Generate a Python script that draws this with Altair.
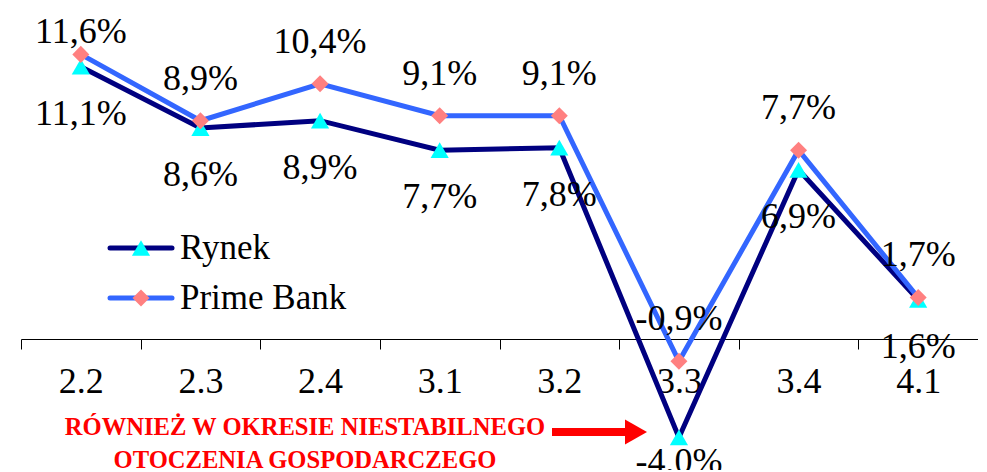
import altair as alt
import pandas as pd

quarters = ["2.2", "2.3", "2.4", "3.1", "3.2", "3.3", "3.4", "4.1"]
series = ["Rynek", "Prime Bank"]
rynek = [11.1, 8.6, 8.9, 7.7, 7.8, -4.0, 6.9, 1.6]
prime = [11.6, 8.9, 10.4, 9.1, 9.1, -0.9, 7.7, 1.7]
annotation = ["RÓWNIEŻ W OKRESIE  NIESTABILNEGO", "OTOCZENIA GOSPODARCZEGO"]

rows = []
for q, a, b in zip(quarters, rynek, prime):
    rows.append({"q": q, "s": series[0], "v": a})
    rows.append({"q": q, "s": series[1], "v": b})
df = pd.DataFrame(rows)
one = pd.DataFrame({"k": [0]})

FONT = "Liberation Serif"
NAVY = "#000080"
BLUE = "#3366FF"
CYAN = "#00FFFF"
SALMON = "#FF8080"
RED = "#FF0000"

X = alt.X(
    "q:N",
    sort=quarters,
    scale=alt.Scale(type="band", paddingInner=0, paddingOuter=0),
    axis=alt.Axis(
        title=None, labelAngle=0, labelFont=FONT, labelFontSize=36,
        labelColor="black", domainColor="black", tickColor="black",
        tickSize=10, tickBand="extent", offset=-123, labelPadding=15,
        grid=False,
    ),
)
Y = alt.Y("v:Q", scale=alt.Scale(domain=[-5, 13], nice=False, zero=False), axis=None)

base = alt.Chart(df)
r = base.transform_filter(alt.datum.s == series[0])
p = base.transform_filter(alt.datum.s == series[1])
lab = "replace(replace(format(datum.v, '.1f'), '.', ','), '\u2212', '-') + '%'"

TRI = 330
DIA = 290

line_r = r.mark_line(color=NAVY, strokeWidth=5).encode(x=X, y=Y)
line_p = p.mark_line(color=BLUE, strokeWidth=5).encode(x=X, y=Y)
pts_r = r.mark_point(shape="triangle-up", filled=True, color=CYAN, size=TRI, opacity=1).encode(x=X, y=Y)
pts_p = p.mark_point(shape="diamond", filled=True, color=SALMON, size=DIA, opacity=1).encode(x=X, y=Y)

def txt(src, cond, dy):
    return (src.transform_filter(cond).transform_calculate(lab=lab)
            .mark_text(font=FONT, fontSize=36, color="black", baseline="middle", dy=dy)
            .encode(x=X, y=Y, text="lab:N"))

t_r1 = txt(r, alt.datum.v >= 0, 47)
t_r2 = txt(r, alt.datum.v < 0, 25)
t_p1 = txt(p, alt.datum.v < 11, -42)
t_p2 = txt(p, alt.datum.v >= 11, -22)

# legend
leg = []
for name, col, shp, mcol, sz, yy in [(series[0], NAVY, "triangle-up", CYAN, TRI, 228),
                                     (series[1], BLUE, "diamond", SALMON, DIA, 278)]:
    o = alt.Chart(one)
    leg.append(o.mark_rule(color=col, strokeWidth=5, strokeCap="round").encode(
        x=alt.value(89), x2=alt.value(151), y=alt.value(yy)))
    leg.append(o.mark_point(shape=shp, filled=True, color=mcol, size=sz, opacity=1).encode(
        x=alt.value(120), y=alt.value(yy)))
    leg.append(o.mark_text(font=FONT, fontSize=35, align="left", baseline="middle", color="black").encode(
        x=alt.value(159), y=alt.value(yy), text=alt.value(name)))

o = alt.Chart(one)
ann1 = o.mark_text(font=FONT, fontSize=24.6, fontWeight="bold", color=RED, baseline="middle").encode(
    x=alt.value(284), y=alt.value(408), text=alt.value(annotation[0]))
ann2 = o.mark_text(font=FONT, fontSize=24.6, fontWeight="bold", color=RED, baseline="middle").encode(
    x=alt.value(284), y=alt.value(441), text=alt.value(annotation[1]))
shaft = o.mark_rule(color=RED, strokeWidth=8).encode(x=alt.value(531), x2=alt.value(606), y=alt.value(412))
head = o.mark_point(shape="M -0.88 -1 L 0.88 0 L -0.88 1 Z", filled=True, color=RED, size=625, opacity=1).encode(
    x=alt.value(615), y=alt.value(412))

chart = alt.layer(
    line_r, line_p, pts_r, pts_p, t_r1, t_r2, t_p1, t_p2, *leg, ann1, ann2, shaft, head
).properties(
    width=957, height=442, autosize="none",
    padding={"left": 13, "top": 12, "right": 0, "bottom": 8},
).configure_view(stroke=None)

chart.save("out.html", embed_options={"renderer": "svg", "actions": False})
